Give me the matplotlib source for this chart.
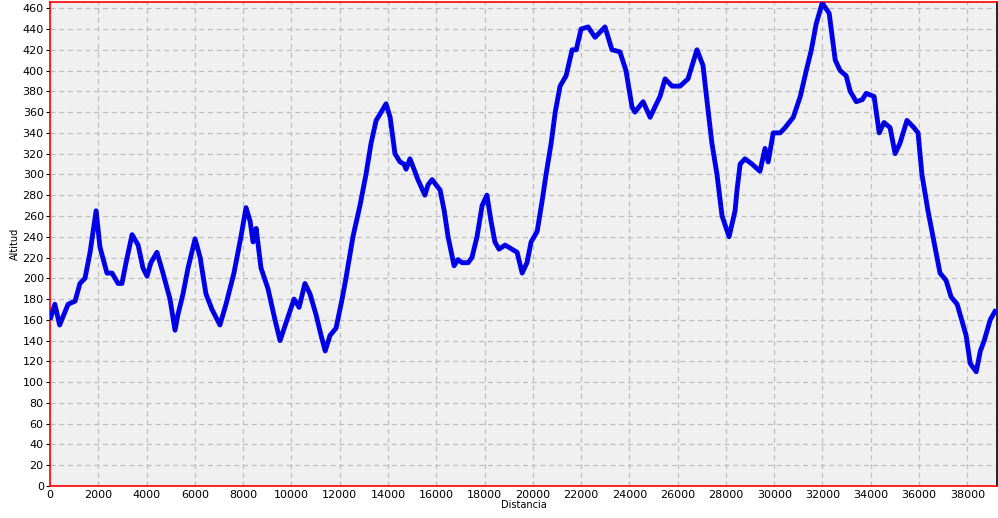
import numpy as np
import matplotlib
matplotlib.use('Agg')
import matplotlib.pyplot as plt

# Elevation profile (distance in m, altitude in m)
distancia = [0, 200, 400, 750, 1040, 1240, 1450, 1660, 1910, 2070, 2360, 2570, 2820, 2980,
             3150, 3400, 3650, 3850, 4020, 4180, 4430, 4680, 4970, 5180, 5300, 5510, 5720,
             6010, 6220, 6460, 6710, 7040, 7290, 7620, 7910, 8120, 8290, 8410, 8540, 8740,
             9030, 9320, 9530, 9820, 10110, 10320, 10560, 10770, 11020, 11230, 11400, 11600,
             11850, 12100, 12260, 12550, 12840, 13090, 13300, 13510, 13670, 13920, 14090,
             14290, 14500, 14660, 14750, 14910, 15080, 15240, 15530, 15660, 15830, 15990,
             16160, 16330, 16490, 16740, 16900, 17070, 17320, 17480, 17690, 17900, 18100,
             18270, 18430, 18600, 18850, 19140, 19350, 19560, 19760, 19930, 20180, 20390,
             20550, 20760, 20930, 21130, 21380, 21630, 21800, 22000, 22290, 22580, 22990,
             23280, 23610, 23860, 24110, 24230, 24570, 24860, 25060, 25270, 25480, 25770,
             26100, 26430, 26800, 27050, 27220, 27420, 27630, 27840, 28130, 28380, 28460,
             28590, 28790, 29080, 29410, 29620, 29750, 29960, 30250, 30450, 30790, 31080,
             31330, 31540, 31740, 31990, 32280, 32360, 32530, 32730, 32980, 33150, 33400,
             33650, 33810, 34140, 34350, 34550, 34800, 35010, 35210, 35500, 35790, 35960,
             36120, 36370, 36580, 36870, 37120, 37330, 37580, 37950, 38120, 38370, 38540,
             38700, 38950, 39190]
altitud = [160, 175, 155, 175, 178, 195, 200, 225, 265, 230, 205, 205, 195, 195,
           215, 242, 232, 210, 202, 215, 225, 205, 180, 150, 165, 185, 210,
           238, 220, 185, 170, 155, 175, 205, 240, 268, 255, 235, 248, 210,
           190, 160, 140, 160, 180, 172, 195, 185, 165, 145, 130, 145,
           152, 180, 200, 240, 270, 300, 330, 352, 358, 368, 355,
           320, 312, 310, 305, 315, 305, 295, 280, 290, 295, 290,
           285, 265, 240, 212, 218, 215, 215, 220, 240, 270, 280,
           255, 235, 228, 232, 228, 225, 205, 215, 235, 245, 275,
           300, 330, 360, 385, 395, 420, 420, 440, 442, 432, 442,
           420, 418, 400, 365, 360, 370, 355, 365, 375, 392, 385,
           385, 392, 420, 405, 370, 330, 300, 260, 240, 265, 285,
           310, 315, 310, 303, 325, 312, 340, 340, 345, 355, 375,
           400, 420, 445, 465, 455, 440, 410, 400, 395, 380, 370,
           372, 378, 375, 340, 350, 345, 320, 330, 352, 345, 340,
           300, 265, 240, 205, 198, 182, 175, 145, 118, 110, 130,
           140, 160, 170]

x_ticks = np.arange(0, 40000, 2000)
y_ticks = np.arange(0, 461, 20)

plt.rcParams.update({
    'font.family': 'DejaVu Sans',
    'font.size': 8,
})

fig = plt.figure(figsize=(9.98, 5.18), dpi=100, facecolor='white')
ax = fig.add_axes([50 / 998, 32 / 518, 947 / 998, 484 / 518])
ax.set_facecolor('#F0F0F0')

ax.plot(distancia, altitud, color='#0000FF', linewidth=3.5, solid_capstyle='butt', zorder=3)
ax.plot(distancia, altitud, color='black', linewidth=0.8, linestyle=(0, (1, 3)), zorder=4)

ax.set_xlim(0, 39230)
ax.set_ylim(0, 466)
ax.set_xticks(x_ticks)
ax.set_yticks(y_ticks)
ax.grid(True, color='#BEBEBE', linestyle=(0, (4, 3)), linewidth=0.9, zorder=0)
ax.set_axisbelow(True)

for side in ('left', 'bottom', 'top'):
    ax.spines[side].set_color('red')
    ax.spines[side].set_linewidth(1.2)
ax.spines['right'].set_color('black')
ax.spines['right'].set_linewidth(1.2)

ax.tick_params(axis='both', direction='out', length=3, width=0.8, colors='black',
               labelsize=8, pad=1.5)
ax.tick_params(axis='x', length=0, pad=3)

ax.set_xlabel('Distancia', fontsize=7, labelpad=0)
ax.set_ylabel('Altitud', fontsize=7, labelpad=2)

plt.savefig('out.png', dpi=100, facecolor='white')
plt.close()
